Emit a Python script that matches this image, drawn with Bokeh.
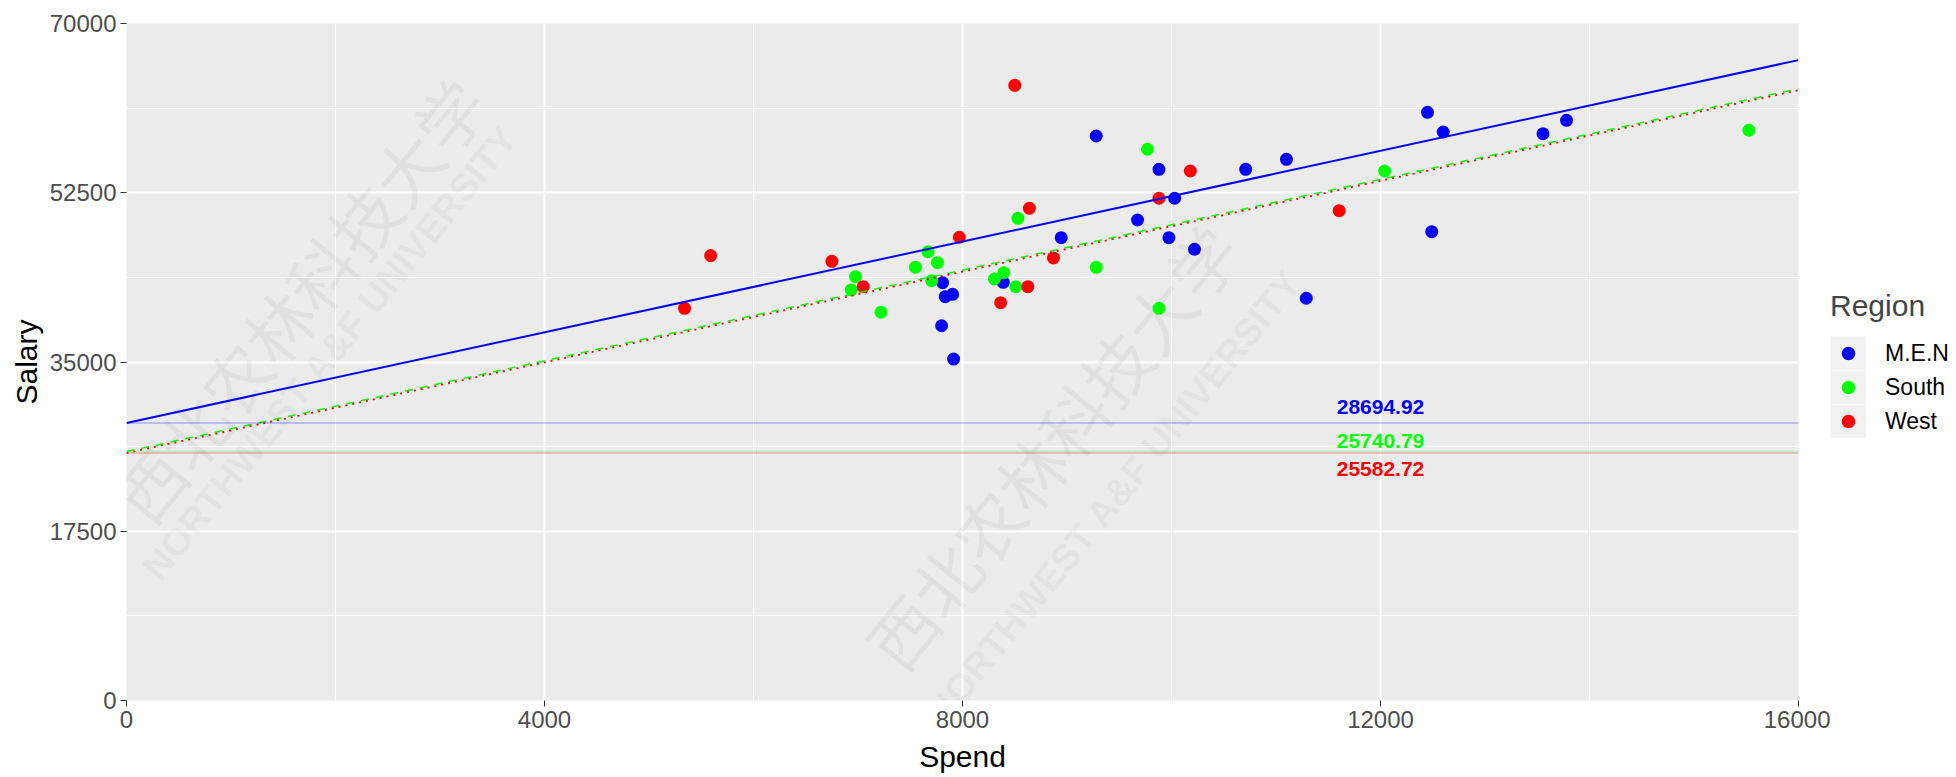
from bokeh.plotting import figure
from bokeh.layouts import row
from bokeh.models import FixedTicker, Span, Legend, LegendItem, Range1d, Label
from bokeh.core.properties import value
from bokeh.embed import file_html
from bokeh.resources import INLINE
import numpy as np

# ---------------- data ----------------
regions = ["M.E.N", "South", "West"]

men_spend = [7810, 7835, 7905, 7800, 7915, 8390, 8945, 9280, 9880, 10710, 11100,
             12450, 10030, 9675, 9975, 10220, 11290, 12490, 12600, 13555, 13780]
men_salary = [43200, 41750, 42000, 38750, 35300, 43240, 47855, 58370, 54925, 54925, 55960,
              60820, 51930, 49685, 47855, 46655, 41590, 48475, 58780, 58605, 59990]

south_spend = [6976, 6935, 7220, 7670, 7550, 7760, 7705, 8305, 8395, 8530, 8510,
               9770, 9280, 9880, 12040, 15525]
south_salary = [43820, 42450, 40150, 46400, 44800, 45270, 43400, 43580, 44235, 49860, 42790,
                57000, 44790, 40550, 54750, 58960]

west_spend = [8500, 5590, 6750, 5340, 7050, 7970, 8640, 8625, 8365, 8870, 10180, 9880, 11605]
west_salary = [63610, 46000, 45410, 40550, 42790, 47900, 50890, 42790, 41130, 45760, 54750,
               51930, 50645]

intercepts = [28694.92, 25740.79, 25582.72]
slopes = [2.345, 2.345, 2.345]

x_ticks = [0, 4000, 8000, 12000, 16000]
y_ticks = [0, 17500, 35000, 52500, 70000]

watermark_cn = "西北农林科技大学"
watermark_en = "NORTHWEST A&F UNIVERSITY"

# ---------------- styling ----------------
colors = ["#0000FF", "#00FF00", "#FF0000"]
FONT = "Liberation Sans"

p = figure(width=1830, height=777, output_backend="svg", toolbar_location=None,
           x_range=Range1d(0, 16000), y_range=Range1d(0, 70000),
           min_border_left=126, min_border_right=32, min_border_top=23, min_border_bottom=77)
p.background_fill_color = "#EBEBEB"
p.border_fill_color = "white"
p.outline_line_color = None

x_minor = [(a + b) / 2 for a, b in zip(x_ticks[:-1], x_ticks[1:])]
y_minor = [(a + b) / 2 for a, b in zip(y_ticks[:-1], y_ticks[1:])]
p.xaxis.ticker = FixedTicker(ticks=x_ticks, minor_ticks=x_minor)
p.yaxis.ticker = FixedTicker(ticks=y_ticks, minor_ticks=y_minor)

for ax in (p.xaxis[0], p.yaxis[0]):
    ax.axis_line_color = None
    ax.major_tick_line_color = "#333333"
    ax.major_tick_out = 6
    ax.major_tick_in = 0
    ax.minor_tick_line_color = None
    ax.major_label_text_font = FONT
    ax.major_label_text_font_size = "24px"
    ax.major_label_text_color = "#4D4D4D"
    ax.major_label_standoff = 4
    ax.axis_label_text_font = FONT
    ax.axis_label_text_font_size = "30px"
    ax.axis_label_text_font_style = "normal"
    ax.axis_label_text_color = "black"
    ax.axis_label_standoff = 4
p.xaxis.axis_label = "Spend"
p.yaxis.axis_label = "Salary"
p.xaxis.axis_label_standoff = 9

for g in (p.xgrid[0], p.ygrid[0]):
    g.grid_line_color = "white"
    g.grid_line_width = 2
    g.minor_grid_line_color = "white"
    g.minor_grid_line_width = 1

# faint watermark (two diagonal copies)
wm_places = [(1650, 41500, 1950, 36000), (8850, 26300, 9450, 21000)]
for cx, cy, ex, ey in wm_places:
    p.add_layout(Label(x=cx, y=cy, text=watermark_cn, angle=51, angle_units="deg",
                       text_font="Noto Sans CJK SC", text_font_size="68px",
                       text_color="#000000", text_alpha=0.045,
                       text_align="center", text_baseline="middle", level="underlay"))
    p.add_layout(Label(x=ex, y=ey, text=watermark_en, angle=51, angle_units="deg",
                       text_font=FONT, text_font_size="38px", text_font_style="bold",
                       text_color="#000000", text_alpha=0.045,
                       text_align="center", text_baseline="middle", level="underlay"))

# points
series = [(men_spend, men_salary), (south_spend, south_salary), (west_spend, west_salary)]
for (xs, ys), c in zip(series, colors):
    p.scatter(x=xs, y=ys, size=13, fill_color=c, line_color=c, line_width=0)

# horizontal lines at intercepts
for ic, c in zip(intercepts, colors):
    p.add_layout(Span(location=ic, dimension="width", line_color=c, line_alpha=0.2, line_width=2))

# regression lines
xline = np.array([0, 16000])
dashes = ["solid", "8 7", "2 5"]
widths = [2, 1.5, 1.8]
for ic, s, c, d, w in zip(intercepts, slopes, colors, dashes, widths):
    p.line(x=xline, y=ic + s * xline, line_color=c, line_dash=d, line_width=w)

# intercept labels
label_offsets = [1650, 1100, -1650]
p.text(x=[12000] * 3, y=[ic + o for ic, o in zip(intercepts, label_offsets)],
       text=["%.2f" % v for v in intercepts], text_color=colors,
       text_font=value(FONT), text_font_style="bold", text_font_size="21px",
       text_align="center", text_baseline="middle")

# legend panel (separate narrow figure to the right)
q = figure(width=126, height=777, output_backend="svg", toolbar_location=None,
           x_axis_type=None, y_axis_type=None, x_range=Range1d(0, 1), y_range=Range1d(0, 1),
           min_border_left=0, min_border_right=0, min_border_top=0, min_border_bottom=0)
q.outline_line_color = None
q.grid.visible = False
q.background_fill_color = "white"
q.border_fill_color = "white"

items = []
nan = float("nan")
for name, c in zip(regions, colors):
    bg = q.line(x=[nan, nan], y=[nan, nan], line_color="#F2F2F2", line_width=34)
    dot = q.scatter(x=[nan], y=[nan], size=13, fill_color=c, line_color=c, line_width=0)
    items.append(LegendItem(label=name, renderers=[bg, dot]))
legend = Legend(items=items, location=(0, 262), title="Region",
                glyph_width=36, glyph_height=34, spacing=0, padding=0, margin=0,
                label_standoff=19, label_text_font=FONT, label_text_font_size="23px",
                label_text_color="black", title_text_font=FONT, title_text_font_size="30px",
                title_text_font_style="normal", title_standoff=13,
                border_line_color=None, background_fill_alpha=0)
q.add_layout(legend)

layout = row(p, q, spacing=0)
open("out.html", "w").write(file_html(layout, INLINE))
